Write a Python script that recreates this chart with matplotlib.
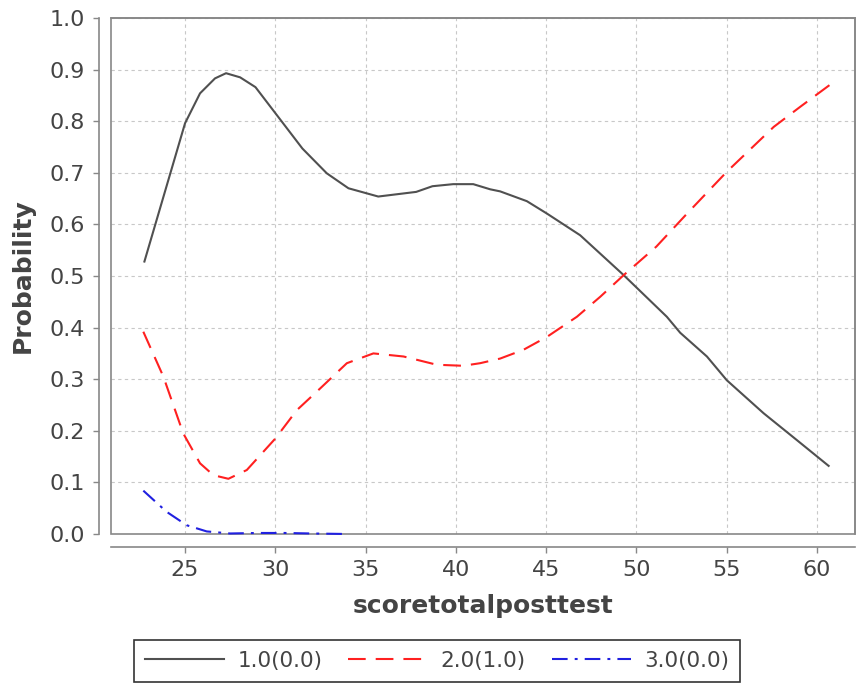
import matplotlib
matplotlib.use("Agg")
import matplotlib.pyplot as plt
from matplotlib.patches import Rectangle

# values
x_cat1 = [22.75, 25.0, 25.83, 26.66, 27.27, 28.05, 28.9, 30.08, 31.5, 32.85, 34.05,
          35.7, 37.8, 38.7, 39.85, 40.96, 41.9, 42.45, 43.93, 45.04, 46.88, 49.28,
          51.68, 52.42, 53.9, 55.0, 57.04, 58.88, 60.64]
p_cat1 = [0.528, 0.796, 0.854, 0.883, 0.893, 0.885, 0.866, 0.812, 0.747, 0.699, 0.670,
          0.654, 0.663, 0.674, 0.678, 0.678, 0.668, 0.664, 0.645, 0.621, 0.579, 0.502,
          0.421, 0.390, 0.344, 0.298, 0.234, 0.182, 0.132]

x_cat2 = [22.69, 23.8, 24.9, 25.83, 26.57, 27.4, 28.42, 30.0, 31.19, 32.48, 33.96,
          35.43, 37.1, 38.94, 40.4, 41.34, 42.45, 43.74, 45.04, 46.7, 48.0, 49.3,
          51.1, 52.8, 55.0, 57.6, 59.07, 60.73]
p_cat2 = [0.392, 0.305, 0.195, 0.137, 0.114, 0.107, 0.124, 0.185, 0.240, 0.282, 0.331,
          0.350, 0.344, 0.328, 0.326, 0.331, 0.340, 0.357, 0.382, 0.421, 0.460, 0.502,
          0.557, 0.621, 0.702, 0.789, 0.828, 0.871]

x_cat3 = [22.69, 23.98, 25.09, 26.2, 27.5, 29.0, 30.5, 32.0, 33.96]
p_cat3 = [0.084, 0.043, 0.017, 0.005, 0.001, 0.002, 0.002, 0.001, 0.0]

labels = ["1.0(0.0)", "2.0(1.0)", "3.0(0.0)"]
xticks = [25, 30, 35, 40, 45, 50, 55, 60]
yticks = [0.0, 0.1, 0.2, 0.3, 0.4, 0.5, 0.6, 0.7, 0.8, 0.9, 1.0]

plt.rcParams['font.family'] = ['DejaVu Sans']
txt = '#444444'
axc = '#888888'

fig = plt.figure(figsize=(8.58, 6.87), dpi=100)
ax = fig.add_axes([111 / 858, 1 - 534 / 687, 744 / 858, 516 / 687])

ax.plot(x_cat1, p_cat1, color='#505050', lw=1.5, label=labels[0])
ax.plot(x_cat2, p_cat2, color='#ff2020', lw=1.5, dashes=[8.5, 4.8], label=labels[1])
ax.plot(x_cat3, p_cat3, color='#2020e0', lw=1.5, dashes=[7.5, 3.4, 1.4, 3.4],
        label=labels[2], clip_on=False)

ax.set_xlim(20.9, 62.1)
ax.set_ylim(0, 1.0)
ax.set_xticks(xticks)
ax.set_yticks(yticks)
ax.set_yticklabels([f"{v:.1f}" for v in yticks])

ax.grid(True, color='#c8c8c8', linestyle=(0, (3, 3)), lw=0.8)
ax.set_axisbelow(True)

# JFreeChart style: axis lines offset from the plot outline
for s in ['left', 'bottom']:
    ax.spines[s].set_position(('outward', 9))
    ax.spines[s].set_color(axc)
    ax.spines[s].set_linewidth(1.2)
for s in ['top', 'right']:
    ax.spines[s].set_color(axc)
    ax.spines[s].set_linewidth(1.2)
ax.add_patch(Rectangle((0, 0), 1, 1, transform=ax.transAxes, fill=False,
                       edgecolor=axc, lw=1.2, clip_on=False, zorder=1))

ax.tick_params(axis='both', colors=axc, labelcolor=txt, labelsize=16,
               length=4, width=1, pad=6)

ax.set_xlabel("scoretotalposttest", fontsize=18, fontweight='bold', color=txt, labelpad=10)
ax.set_ylabel("Probability", fontsize=18, fontweight='bold', color=txt, labelpad=10)

leg = fig.legend(loc='center', bbox_to_anchor=(437 / 858, 1 - 661 / 687), ncol=3,
                 fontsize=15.5, frameon=True, fancybox=False, handlelength=3.7,
                 handletextpad=0.6, columnspacing=1.2, borderpad=0.5)
leg.get_frame().set_edgecolor('black')
leg.get_frame().set_linewidth(1.2)
for t in leg.get_texts():
    t.set_color(txt)

fig.savefig("out.png", dpi=100)
